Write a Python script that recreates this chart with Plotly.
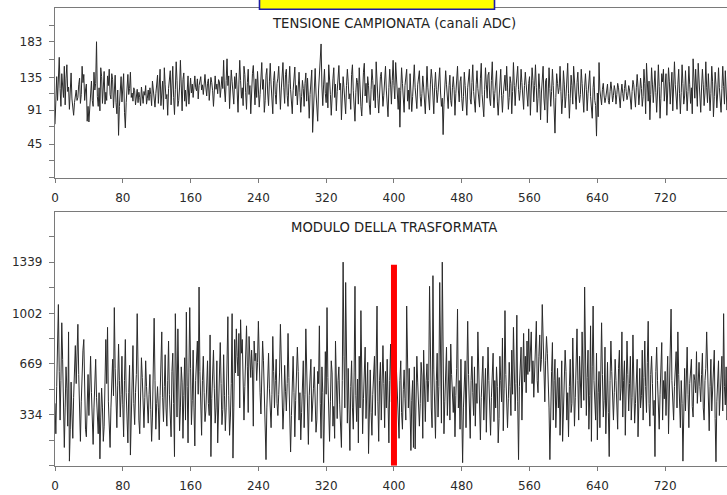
import plotly.graph_objects as go

# ---------------------------------------------------------------- data
# sampled voltage, ADC channels (one value per sample index)
tensione = [
    72,118,136,104,128,162,120,96,140,112,108,150,98,134,152,116,122,92,110,141,106,95,84,101,112,118,104,108,125,134,100,112,150,128,139,104,118,126,76,96,
    75,98,112,130,104,96,142,118,127,183,109,96,121,90,148,136,100,128,143,99,115,104,137,124,146,112,106,140,132,94,120,138,101,86,118,57,96,124,136,102,
    128,140,88,67,101,126,139,112,120,142,108,114,103,121,117,98,110,119,101,115,108,97,122,106,100,116,111,124,99,107,118,104,121,112,97,130,119,104,95,113,
    128,138,100,116,146,97,121,130,92,148,125,106,112,84,120,139,144,98,128,150,108,85,119,156,131,96,104,122,158,111,90,132,141,103,118,96,127,137,99,118,
    134,114,126,108,131,137,121,117,133,106,124,129,136,118,125,112,130,139,122,110,127,133,104,121,135,128,117,96,124,137,119,126,113,132,129,108,121,136,120,158,
    118,102,131,160,124,137,93,118,145,129,110,99,136,120,141,103,88,126,158,131,107,121,97,150,139,115,92,128,146,112,124,86,117,140,151,122,98,133,108,143,
    124,95,112,141,155,119,132,88,104,138,147,114,97,129,154,126,108,86,131,143,112,99,127,134,150,105,92,118,136,155,121,100,139,146,111,96,127,150,119,103,
    86,117,139,149,110,124,98,136,142,115,88,109,131,120,96,127,141,103,134,110,80,112,136,145,61,101,129,147,114,92,76,118,134,152,180,122,97,126,146,113,
    101,128,94,152,137,112,84,119,133,148,108,126,90,116,143,151,118,127,78,104,136,121,98,86,124,146,129,106,113,92,139,152,117,101,76,115,134,128,99,148,
    117,96,83,120,142,154,110,127,101,136,124,98,85,119,146,131,104,125,94,156,120,107,87,114,136,142,122,96,111,132,150,118,104,82,121,146,126,99,131,158,
    124,106,155,131,109,92,121,68,117,148,127,97,88,124,139,146,103,118,92,140,114,89,109,136,152,121,101,93,125,134,144,109,96,113,137,122,101,86,118,150,
    121,103,91,126,146,133,110,86,121,142,119,101,115,138,148,114,96,107,58,99,128,144,125,110,93,124,138,104,96,121,136,119,84,113,140,150,118,102,129,136,
    107,90,109,142,124,103,84,121,137,146,106,99,128,152,116,104,88,125,144,120,108,95,133,154,112,93,82,119,148,126,107,138,142,106,97,131,156,117,94,113,
    139,144,102,84,106,140,146,111,88,112,131,138,117,150,122,92,108,136,127,86,116,155,124,97,121,140,150,119,104,117,146,128,98,92,124,142,126,110,96,127,
    136,84,109,148,131,102,124,152,121,88,107,140,119,78,114,144,150,106,91,131,134,74,103,148,120,96,116,146,124,98,60,108,140,127,113,121,150,116,86,106,
    144,126,94,109,136,154,113,80,107,138,124,99,150,130,103,92,128,142,114,101,112,146,127,95,88,122,140,119,90,113,134,144,109,98,80,121,136,104,97,56,
    114,82,155,118,107,98,119,127,110,101,108,122,126,104,99,116,129,118,102,111,124,117,99,112,127,121,106,94,114,126,113,103,120,131,116,105,111,124,118,102,
    92,116,131,125,102,95,121,139,122,98,114,134,120,96,109,146,127,86,154,117,103,130,78,112,148,126,101,122,144,115,88,114,152,123,80,107,140,129,146,103,
    124,140,84,111,148,129,99,122,142,90,113,156,125,103,92,126,146,113,86,115,152,127,99,110,144,117,90,116,150,125,100,121,86,160,129,107,146,115,96,154,
    127,104,88,122,146,125,97,114,156,121,101,140,113,90,113,150,129,82,109,142,125,94,114,148,121,103,88,120,150,123,99,144,117,91,112,140,127,103,125,118,
]

# magnitude of the transform (one value per frequency bin)
modulo = [
    410,210,520,780,1060,620,300,560,940,700,320,120,380,650,510,260,880,30,240,550,340,180,450,620,790,540,820,930,600,280,160,420,640,760,830,480,240,190,420,600,
    330,560,720,480,270,140,380,580,700,450,260,210,480,45,320,510,380,160,260,560,830,540,910,420,260,120,380,590,700,460,1040,640,380,250,530,800,560,320,470,720,
    400,190,560,830,480,260,150,480,660,70,330,560,790,410,270,480,600,1000,520,300,210,420,710,580,330,250,450,690,520,380,280,470,600,370,160,320,660,970,560,240,
    410,520,380,170,460,610,880,450,290,520,730,380,260,560,820,470,300,190,620,740,410,60,1000,560,320,900,440,230,380,650,550,180,460,710,300,1010,520,150,610,1040,
    640,270,430,760,380,130,560,690,820,470,1175,620,340,200,560,720,480,290,360,540,690,410,330,860,60,440,590,760,510,280,380,690,150,450,620,810,540,270,370,730,
    460,230,380,620,980,460,200,320,540,1000,50,380,830,610,900,720,590,870,380,960,740,830,640,300,520,780,920,650,350,850,710,580,760,630,260,820,690,740,560,680,
    950,620,480,340,560,820,690,420,300,40,380,560,740,510,380,250,470,850,620,380,560,700,410,330,470,610,930,700,460,240,380,660,490,360,540,870,580,280,90,330,
    520,720,480,190,430,560,780,620,300,480,170,350,560,690,250,470,900,610,350,140,460,590,700,290,380,510,650,480,220,300,620,540,920,410,180,650,480,20,360,750,
    470,1040,580,300,160,420,690,610,260,390,180,820,470,310,560,650,400,230,120,560,1339,720,380,1205,560,280,640,450,100,520,690,380,240,610,1180,460,290,570,150,720,
    380,1020,540,210,440,620,780,310,520,680,80,480,630,350,200,470,560,720,330,590,1050,420,160,560,680,300,480,790,540,250,620,380,700,450,150,560,800,420,610,330,
    520,280,750,620,470,400,180,560,690,350,240,500,630,440,300,1050,520,380,640,210,100,430,560,120,650,110,480,720,550,360,260,410,680,590,180,760,430,290,560,670,
    420,560,1180,600,380,250,1250,630,470,180,560,740,320,520,1205,440,280,1339,560,210,420,650,780,330,560,690,300,800,600,450,350,520,190,460,640,1030,380,560,240,700,
    430,20,380,560,690,250,520,950,600,410,180,560,720,480,330,650,260,540,410,880,610,300,170,450,560,720,300,520,640,220,480,780,560,350,200,450,630,740,290,560,
    380,650,520,150,310,720,560,420,840,230,510,1020,600,380,250,440,680,520,330,760,470,910,620,360,540,990,420,40,520,680,780,300,640,870,550,720,480,820,600,900,
    620,760,880,540,690,450,640,800,950,560,480,720,860,620,700,1060,780,540,420,690,850,740,560,380,40,470,620,810,300,560,700,250,520,640,380,580,200,450,690,160,
    420,560,760,620,300,480,190,520,700,350,410,840,580,260,450,680,900,560,300,720,520,380,880,610,430,1175,500,330,580,760,240,460,920,160,650,1050,560,400,300,740,
    170,480,620,250,560,940,600,320,430,780,210,520,680,350,60,560,820,620,410,300,480,700,560,360,240,640,760,430,510,880,320,560,690,200,470,820,600,360,540,720,
    300,450,860,620,280,410,560,700,190,540,640,380,460,760,300,580,820,520,350,680,950,410,260,600,720,540,330,430,60,620,780,560,380,240,470,690,810,300,560,440,
    620,330,480,720,210,580,650,1030,560,420,300,520,690,750,380,880,600,460,250,560,410,30,520,640,360,560,780,470,250,540,620,700,390,320,600,560,480,750,410,560,
    680,520,420,600,740,380,300,560,640,880,580,450,230,520,700,360,470,610,760,310,26,420,540,690,330,480,600,720,360,1000,520,400,650,300,470,580,720,350,560,430,
]

# marker drawn at bin 400 (half of the 800-sample record)
marker_x = [400, 400]
marker_y = [0, 1322]

# axis ticks
x_ticks = [0, 80, 160, 240, 320, 400, 480, 560, 640, 720]
top_tickvals = [0, 22.8, 45, 68.4, 91, 114, 135, 159.6, 183, 205.2]
top_ticktext = ["", "", "45", "", "91", "", "135", "", "183", ""]
bot_tickvals = [0, 167.2, 334, 501.6, 669, 836, 1002, 1170.4, 1339, 1504.8]
bot_ticktext = ["", "", "334", "", "669", "", "1002", "", "1339", ""]

title_top = "TENSIONE CAMPIONATA (canali ADC)"
title_bot = "MODULO DELLA TRASFORMATA"

# ---------------------------------------------------------------- figure
W, H = 727, 495
LINE = "#2a2a2a"
AXIS = "#7a7a7a"
FONT = "DejaVu Sans"

fig = go.Figure()
fig.add_trace(go.Scatter(x=list(range(len(tensione))), y=tensione, mode="lines",
                         line=dict(color=LINE, width=1), xaxis="x", yaxis="y",
                         showlegend=False, hoverinfo="skip"))
fig.add_trace(go.Scatter(x=list(range(len(modulo))), y=modulo, mode="lines",
                         line=dict(color=LINE, width=1), xaxis="x2", yaxis="y2",
                         showlegend=False, hoverinfo="skip"))
fig.add_trace(go.Scatter(x=marker_x, y=marker_y, mode="lines",
                         line=dict(color="#ff0000", width=6), xaxis="x2", yaxis="y2",
                         showlegend=False, hoverinfo="skip"))


def px_y(p):
    """pixel row (from top) -> paper fraction"""
    return (H - p) / H


tick_font = dict(family=FONT, size=12, color="#2a2a2a")
x_common = dict(range=[0, 793], domain=[55 / W, 1.0], tickmode="array",
                tickvals=x_ticks, ticktext=[str(v) for v in x_ticks],
                ticks="outside", ticklen=4, tickwidth=1, tickcolor=AXIS,
                showline=True, linecolor=AXIS, linewidth=1.3, mirror=True,
                showgrid=False, zeroline=False, automargin=False,
                ticklabelstandoff=5, tickfont=tick_font)
y_common = dict(ticks="outside", ticklen=5, tickwidth=1, tickcolor=AXIS,
                showline=True, linecolor=AXIS, linewidth=1.3, mirror=False,
                showgrid=False, zeroline=False, tickmode="array", automargin=False,
                ticklabelstandoff=4, tickfont=tick_font)

fig.update_layout(
    width=W, height=H,
    margin=dict(l=0, r=0, t=0, b=0),
    paper_bgcolor="white", plot_bgcolor="white",
    xaxis=dict(**x_common, anchor="y"),
    yaxis=dict(**y_common, domain=[px_y(177.7), px_y(8.3)], range=[0, 228],
               tickvals=top_tickvals, ticktext=top_ticktext, anchor="x"),
    xaxis2=dict(**x_common, anchor="y2"),
    yaxis2=dict(**y_common, domain=[px_y(465.7), px_y(211.5)], range=[0, 1672],
                tickvals=bot_tickvals, ticktext=bot_ticktext, anchor="x2"),
    annotations=[
        dict(text=title_top, x=394 / W, y=px_y(24), xref="paper", yref="paper",
             showarrow=False, xanchor="center", yanchor="middle",
             font=dict(family=FONT, size=13.2, color="#222")),
        dict(text=title_bot, x=394 / W, y=px_y(228), xref="paper", yref="paper",
             showarrow=False, xanchor="center", yanchor="middle",
             font=dict(family=FONT, size=13.2, color="#222")),
    ],
    shapes=[
        dict(type="rect", xref="paper", yref="paper",
             x0=259.5 / W, x1=494.5 / W, y0=px_y(9.3), y1=px_y(-20),
             fillcolor="#ffff00", line=dict(color="#1c1ca8", width=1.6), layer="above"),
    ],
)

fig.write_html("out.html")
